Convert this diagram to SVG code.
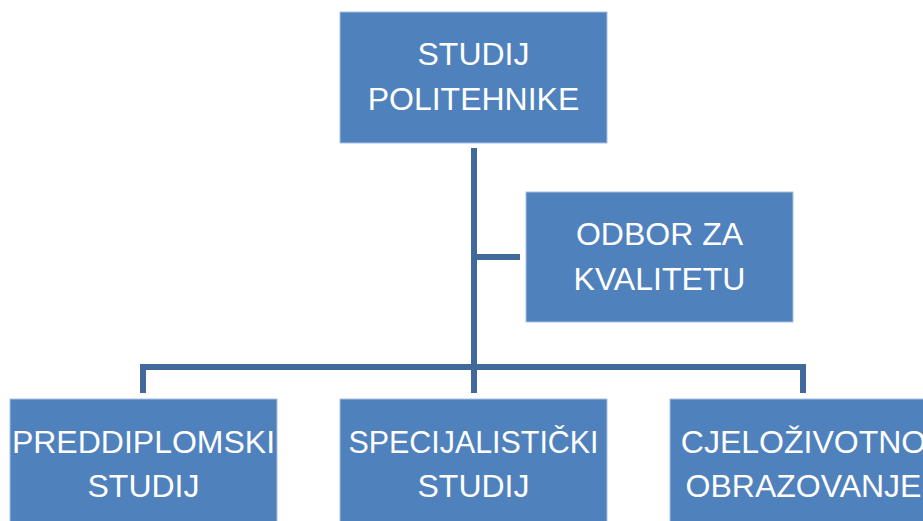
<svg xmlns="http://www.w3.org/2000/svg" width="923" height="521" viewBox="0 0 923 521">
<style>
.box{fill:#4F81BD;stroke:#A9C1E0;stroke-width:1}
.lbl{font-family:"Liberation Sans",Arial,sans-serif;font-size:32px;fill:#FFFFFF;text-anchor:middle}
.con{fill:none;stroke:#41699B;stroke-width:6;stroke-linejoin:miter}
</style>
<rect width="923" height="521" fill="#FFFFFF"/>
<g id="connectors">
<path class="con" d="M474 148 V367"/>
<path class="con" d="M474 257 H520"/>
<path class="con" d="M143 393 V367 H803 V393"/>
<path class="con" d="M474 367 V393"/>
</g>
<g id="studij-politehnike">
<rect class="box" x="340" y="12" width="267" height="131"/>
<text class="lbl" x="473.5" y="65">STUDIJ</text>
<text class="lbl" x="473.5" y="110">POLITEHNIKE</text>
</g>
<g id="odbor-za-kvalitetu">
<rect class="box" x="526" y="192" width="267" height="130"/>
<text class="lbl" x="659.5" y="245">ODBOR ZA</text>
<text class="lbl" x="659.5" y="290">KVALITETU</text>
</g>
<g id="preddiplomski-studij">
<rect class="box" x="10" y="399" width="267" height="130"/>
<text class="lbl" x="143.5" y="453">PREDDIPLOMSKI</text>
<text class="lbl" x="143.5" y="497">STUDIJ</text>
</g>
<g id="specijalisticki-studij">
<rect class="box" x="340" y="399" width="267" height="130"/>
<text class="lbl" x="473.5" y="453" textLength="250" lengthAdjust="spacingAndGlyphs">SPECIJALISTIČKI</text>
<text class="lbl" x="473.5" y="497">STUDIJ</text>
</g>
<g id="cjelozivotno-obrazovanje">
<rect class="box" x="670" y="399" width="267" height="130"/>
<text class="lbl" x="803.5" y="453">CJELOŽIVOTNO</text>
<text class="lbl" x="803.5" y="497">OBRAZOVANJE</text>
</g>
</svg>
